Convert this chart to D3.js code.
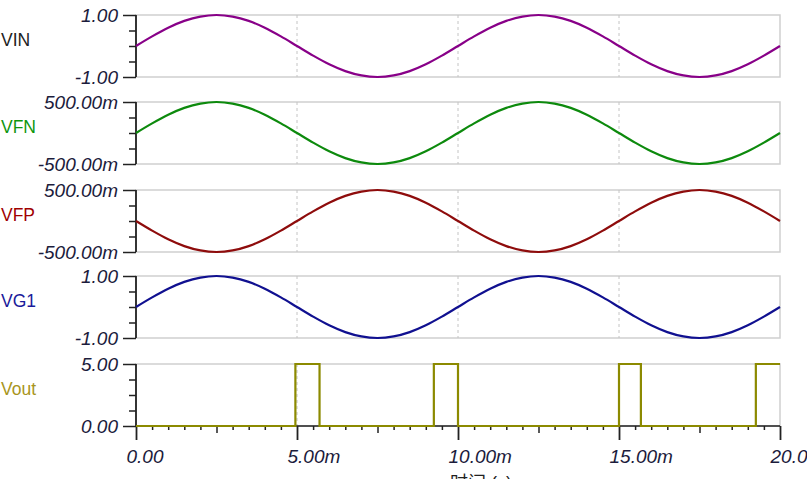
<!DOCTYPE html>
<html>
<head>
<meta charset="utf-8">
<script src="https://cdn.jsdelivr.net/npm/d3@7"></script>
<style>
    body { margin: 0; background: #fff; }
    svg { display: block; font-family: "Liberation Sans", Arial, "Noto Sans CJK SC", sans-serif; }
</style>
</head>
<body>
<div class="chart"></div>
<script>
// time axis, ms (sample step 0.5 ms)
var timeMs = [0, 0.5, 1, 1.5, 2, 2.5, 3, 3.5, 4, 4.5, 5, 5.5, 6, 6.5, 7, 7.5, 8, 8.5, 9, 9.5,
    10, 10.5, 11, 11.5, 12, 12.5, 13, 13.5, 14, 14.5, 15, 15.5, 16, 16.5, 17, 17.5, 18, 18.5, 19, 19.5, 20];

var vin = [0, 0.31, 0.59, 0.81, 0.95, 1.00, 0.95, 0.81, 0.59, 0.31, 0, -0.31, -0.59, -0.81, -0.95, -1.00, -0.95, -0.81, -0.59, -0.31,
    0, 0.31, 0.59, 0.81, 0.95, 1.00, 0.95, 0.81, 0.59, 0.31, 0, -0.31, -0.59, -0.81, -0.95, -1.00, -0.95, -0.81, -0.59, -0.31, 0];

var vfn = [0, 0.155, 0.295, 0.405, 0.475, 0.50, 0.475, 0.405, 0.295, 0.155, 0, -0.155, -0.295, -0.405, -0.475, -0.50, -0.475, -0.405, -0.295, -0.155,
    0, 0.155, 0.295, 0.405, 0.475, 0.50, 0.475, 0.405, 0.295, 0.155, 0, -0.155, -0.295, -0.405, -0.475, -0.50, -0.475, -0.405, -0.295, -0.155, 0];

var vfp = [0, -0.155, -0.295, -0.405, -0.475, -0.50, -0.475, -0.405, -0.295, -0.155, 0, 0.155, 0.295, 0.405, 0.475, 0.50, 0.475, 0.405, 0.295, 0.155,
    0, -0.155, -0.295, -0.405, -0.475, -0.50, -0.475, -0.405, -0.295, -0.155, 0, 0.155, 0.295, 0.405, 0.475, 0.50, 0.475, 0.405, 0.295, 0.155, 0];

var vg1 = [0, 0.31, 0.59, 0.81, 0.95, 1.00, 0.95, 0.81, 0.59, 0.31, 0, -0.31, -0.59, -0.81, -0.95, -1.00, -0.95, -0.81, -0.59, -0.31,
    0, 0.31, 0.59, 0.81, 0.95, 1.00, 0.95, 0.81, 0.59, 0.31, 0, -0.31, -0.59, -0.81, -0.95, -1.00, -0.95, -0.81, -0.59, -0.31, 0];

// Vout is a pulse train: value holds from each time until the next
var voutTime = [0, 4.95, 5.70, 9.25, 10.0, 15.0, 15.68, 19.25, 20];
var voutVal = [0, 5, 0, 5, 0, 5, 0, 5, 5];

var xTicks = [0, 5, 10, 15, 20];
var xTickLabels = ["0.00", "5.00m", "10.00m", "15.00m", "20.00m"];

var panels = [
    {name: "VIN", t: timeMs, v: vin, min: -1, max: 1, labels: ["-1.00", "1.00"], color: "#880088", text: "#222"},
    {name: "VFN", t: timeMs, v: vfn, min: -0.5, max: 0.5, labels: ["-500.00m", "500.00m"], color: "#0d8a0d", text: "#0f960f"},
    {name: "VFP", t: timeMs, v: vfp, min: -0.5, max: 0.5, labels: ["-500.00m", "500.00m"], color: "#8e0c0c", text: "#a00000"},
    {name: "VG1", t: timeMs, v: vg1, min: -1, max: 1, labels: ["-1.00", "1.00"], color: "#101090", text: "#1a1a9a"},
    {name: "Vout", t: voutTime, v: voutVal, min: 0, max: 5, labels: ["0.00", "5.00"], color: "#8c8a00", text: "#a8951c", step: true}
];

var panelTop = [15, 102, 190, 276, 364],
    panelHeight = 62,
    left = 136, right = 780;

var svg = d3.select(".chart").append("svg")
        .attr("width", 807)
        .attr("height", 479);

var x = d3.scaleLinear().domain([0, 20]).range([left, right]);

panels.forEach(function (p, i) {
    var top = panelTop[i], bottom = top + panelHeight;
    var y = d3.scaleLinear().domain([p.min, p.max]).range([bottom, top]);
    var g = svg.append("g");

    // frame
    g.append("rect")
            .attr("x", left).attr("y", top)
            .attr("width", right - left).attr("height", panelHeight)
            .attr("fill", "none").attr("stroke", "#cfcfcf").attr("stroke-width", 1.5);

    // vertical dashed grid
    g.selectAll(".grid").data([5, 10, 15]).enter().append("line")
            .attr("x1", function (d) { return x(d); })
            .attr("x2", function (d) { return x(d); })
            .attr("y1", top).attr("y2", bottom)
            .attr("stroke", "#c4c4c4").attr("stroke-dasharray", "3,3");

    // minor y ticks
    var span = p.max - p.min;
    var minorAxis = d3.axisLeft(y)
            .tickValues([p.min + span * 0.25, p.min + span * 0.5, p.min + span * 0.75])
            .tickSize(7).tickFormat("");
    var ym = g.append("g").attr("transform", "translate(" + left + ",0)").call(minorAxis);
    ym.select(".domain").remove();
    ym.selectAll("line").attr("stroke", "#222").attr("stroke-width", 1.5);

    // major y ticks + labels
    var yAxis = d3.axisLeft(y)
            .tickValues([p.min, p.max])
            .tickSize(13).tickPadding(5)
            .tickFormat(function (d, k) { return p.labels[k]; });
    var yg = g.append("g").attr("transform", "translate(" + left + ",0)").call(yAxis);
    yg.select(".domain").attr("stroke", "#222").attr("stroke-width", 1.8)
            .attr("d", "M0," + top + "V" + bottom);
    yg.selectAll("line").attr("stroke", "#222").attr("stroke-width", 1.5);
    yg.selectAll("text")
            .attr("font-size", 19).attr("font-style", "italic")
            .attr("fill", "#1c1c3c").attr("dy", "0.34em");

    // series name
    g.append("text")
            .attr("x", 1).attr("y", (top + bottom) / 2)
            .attr("font-size", 17.5).attr("fill", p.text)
            .text(p.name);

    if (i === panels.length - 1) {
        // x axis along bottom panel
        var minor = d3.range(0, 20.01, 0.5).filter(function (d) { return d % 5 !== 0; });
        var xm = g.append("g").attr("transform", "translate(0," + bottom + ")")
                .call(d3.axisBottom(x).tickValues(minor).tickFormat(""));
        xm.select(".domain").remove();
        xm.selectAll(".tick line")
                .attr("y2", function (d) { return d % 5 === 2.5 ? 7 : 4; })
                .attr("stroke", "#222").attr("stroke-width", 1.5);

        var xg = g.append("g").attr("transform", "translate(0," + bottom + ")")
                .call(d3.axisBottom(x).tickValues(xTicks).tickSize(14)
                        .tickFormat(function (d, k) { return xTickLabels[k]; }));
        xg.select(".domain").attr("stroke", "#222").attr("stroke-width", 1.5)
                .attr("d", "M" + left + ",0H" + right);
        xg.selectAll("line").attr("stroke", "#222").attr("stroke-width", 1.8);
        xg.selectAll("text")
                .attr("font-size", 19).attr("font-style", "italic")
                .attr("fill", "#1c1c3c")
                .attr("text-anchor", "start")
                .attr("x", -10).attr("y", 37).attr("dy", 0);

        svg.append("text")
                .attr("x", 450).attr("y", 489)
                .attr("font-size", 18).attr("fill", "#222")
                .text("时间 (s)");
    }

    // trace
    var pts = p.t.map(function (t, k) { return [t, p.v[k]]; });
    var line = d3.line()
            .x(function (d) { return x(d[0]); })
            .y(function (d) { return y(d[1]); })
            .curve(p.step ? d3.curveStepAfter : d3.curveMonotoneX);
    g.append("path")
            .datum(pts)
            .attr("d", line)
            .attr("fill", "none")
            .attr("stroke", p.color)
            .attr("stroke-width", 2.2);
});
</script>
</body>
</html>
